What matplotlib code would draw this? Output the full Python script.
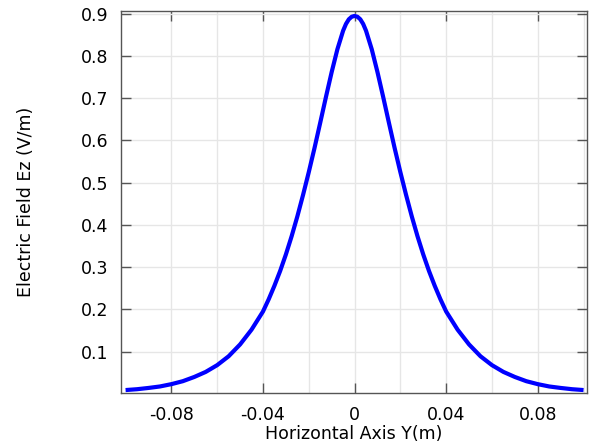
import numpy as np
import matplotlib
matplotlib.use("Agg")
from matplotlib import pyplot as plt

# values (curve is symmetric about 0)
y_pos = [-0.1, -0.095, -0.09, -0.085, -0.08, -0.075, -0.07, -0.065, -0.06, -0.055,
         -0.05, -0.045, -0.04, -0.0375, -0.035, -0.0325, -0.03, -0.0275, -0.025, -0.0225,
         -0.02, -0.0175, -0.015, -0.0125, -0.01, -0.0075, -0.005, -0.00375, -0.0025,
         -0.00125, 0.0, 0.00125,
         0.0025, 0.00375, 0.005, 0.0075, 0.01, 0.0125, 0.015, 0.0175, 0.02, 0.0225, 0.025,
         0.0275, 0.03, 0.0325, 0.035, 0.0375, 0.04, 0.045, 0.05, 0.055, 0.06,
         0.065, 0.07, 0.075, 0.08, 0.085, 0.09, 0.095, 0.1]
ez = [0.009, 0.011, 0.014, 0.0175, 0.023, 0.030, 0.040, 0.052, 0.068, 0.089,
      0.117, 0.152, 0.195, 0.224, 0.256, 0.291, 0.330, 0.373, 0.420, 0.471,
      0.525, 0.582, 0.642, 0.703, 0.762, 0.816, 0.860, 0.876, 0.887,
      0.893, 0.895, 0.893,
      0.887, 0.876, 0.860, 0.816, 0.762, 0.703, 0.642, 0.582, 0.525, 0.471, 0.420,
      0.373, 0.330, 0.291, 0.256, 0.224, 0.195, 0.152, 0.117, 0.089, 0.068,
      0.052, 0.040, 0.030, 0.023, 0.0175, 0.014, 0.011, 0.009]

x_ticks = [-0.08, -0.04, 0, 0.04, 0.08]
x_tick_labels = ['-0.08', '-0.04', '0', '0.04', '0.08']
x_minor = [-0.06, -0.02, 0.02, 0.06, 0.1]
y_ticks = [0.1, 0.2, 0.3, 0.4, 0.5, 0.6, 0.7, 0.8, 0.9]

fig = plt.figure(figsize=(5.94, 4.46), dpi=100)
ax = fig.add_axes([0.2037, 0.1188, 0.9882 - 0.2037, 0.9753 - 0.1188])

ax.plot(y_pos, ez, color='blue', linewidth=3, solid_joinstyle='round',
        solid_capstyle='butt', zorder=3)

ax.set_xlim(-0.102, 0.1015)
ax.set_ylim(0.002, 0.9066)
ax.set_xticks(x_ticks)
ax.set_xticklabels(x_tick_labels)
ax.set_xticks(x_minor, minor=True)
ax.set_yticks(y_ticks)
ax.set_yticklabels([str(v) for v in y_ticks])

ax.grid(True, which='both', color='#e6e6e6', linewidth=1)
ax.set_axisbelow(True)
ax.tick_params(which='major', direction='in', length=7, width=1, color='#555555',
               top=True, right=True, labelsize=12.5, pad=9)
ax.tick_params(which='minor', length=0)
for s in ax.spines.values():
    s.set_color('#555555')
    s.set_linewidth(1)

ax.set_xlabel('Horizontal Axis Y(m)', fontsize=12.5, labelpad=1)
ax.set_ylabel('Electric Field Ez (V/m)', fontsize=12.5, labelpad=33)

fig.savefig('out.png', dpi=100)
